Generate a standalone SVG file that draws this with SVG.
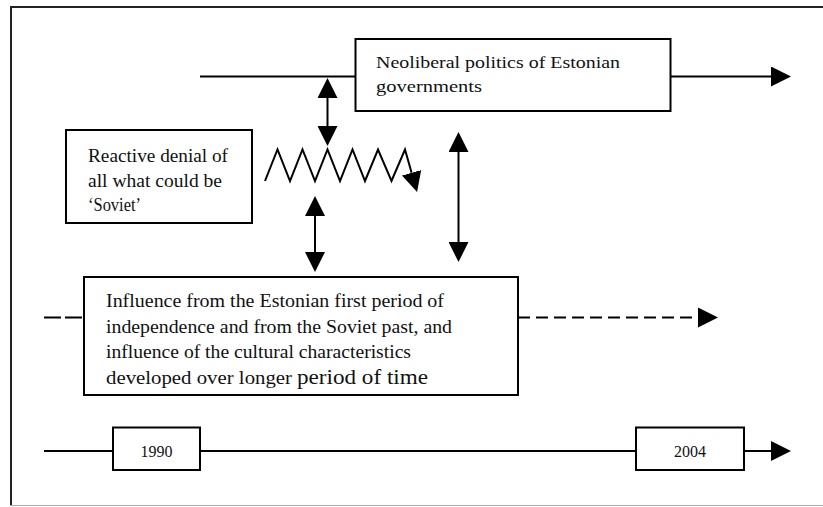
<svg xmlns="http://www.w3.org/2000/svg" width="823" height="507" viewBox="0 0 823 507">
<style>
  .ln{stroke:#000;stroke-width:2;fill:none}
  .box{fill:#fff;stroke:#000;stroke-width:2}
  .t{font-family:"Liberation Serif","Times New Roman",serif;fill:#111}
  .f16{font-size:16px}
  .f17{font-size:17px}
  .f18{font-size:18px}
  .f20{font-size:20px}
</style>
<defs>
  <marker id="ah" viewBox="0 -10 20 20" refX="0" refY="0" markerWidth="20" markerHeight="20" markerUnits="userSpaceOnUse" orient="auto-start-reverse">
    <path d="M0,-10 L20,0 L0,10 Z" fill="#000"/>
  </marker>
</defs>
<g id="frame">
  <line x1="10" y1="7" x2="823" y2="7" stroke="#222" stroke-width="2"/>
  <line x1="11" y1="6" x2="11" y2="506" stroke="#222" stroke-width="2"/>
  <line x1="10" y1="505.5" x2="823" y2="505.5" stroke="#aaa" stroke-width="1"/>
</g>
<g id="connectors">
  <line class="ln" x1="200" y1="76.5" x2="356" y2="76.5"/>
  <line class="ln" x1="670" y1="76.5" x2="771" y2="76.5" marker-end="url(#ah)"/>
  <line class="ln" x1="327.5" y1="98" x2="327.5" y2="126" marker-start="url(#ah)" marker-end="url(#ah)"/>
  <line class="ln" x1="315" y1="216" x2="315" y2="252" marker-start="url(#ah)" marker-end="url(#ah)"/>
  <line class="ln" x1="458.5" y1="152" x2="458.5" y2="242" marker-start="url(#ah)" marker-end="url(#ah)"/>
  <polyline class="ln" stroke-linejoin="miter" points="265,181 277.5,149.5 290,181 302.5,149.5 315,181 327.5,149.5 340,181 352.5,149.5 365,181 378,149.5 391.5,181 405,149.5 411.6,172.8" marker-end="url(#ah)"/>
  <line class="ln" x1="44" y1="317.5" x2="83" y2="317.5" stroke-dasharray="17,4"/>
  <line class="ln" x1="518" y1="317.5" x2="698" y2="317.5" stroke-dasharray="12,6"/>
  <path d="M698,307.5 L718,317.5 L698,327.5 Z" fill="#000"/>
  <line class="ln" x1="44" y1="451" x2="113" y2="451"/>
  <line class="ln" x1="200" y1="451" x2="636" y2="451"/>
  <line class="ln" x1="744" y1="451" x2="771" y2="451" marker-end="url(#ah)"/>
</g>
<g id="neoliberal">
  <rect class="box" x="355.5" y="39" width="315" height="72"/>
  <text class="t f17" x="376" y="68" textLength="244" lengthAdjust="spacingAndGlyphs">Neoliberal politics of Estonian</text>
  <text class="t f17" x="376" y="92" textLength="106" lengthAdjust="spacingAndGlyphs">governments</text>
</g>
<g id="reactive">
  <rect class="box" x="66" y="130" width="186" height="93"/>
  <text class="t f18" x="88" y="162" textLength="140" lengthAdjust="spacingAndGlyphs">Reactive denial of</text>
  <text class="t f18" x="88" y="187" textLength="134" lengthAdjust="spacingAndGlyphs">all what could be</text>
  <text class="t f18" x="88" y="211" textLength="53" lengthAdjust="spacingAndGlyphs">‘Soviet’</text>
</g>
<g id="influence">
  <rect class="box" x="84" y="277" width="434" height="118"/>
  <text class="t f18" x="106" y="307" textLength="338" lengthAdjust="spacingAndGlyphs">Influence from the Estonian first period of</text>
  <text class="t f18" x="106" y="333" textLength="346" lengthAdjust="spacingAndGlyphs">independence and from the Soviet past, and</text>
  <text class="t f18" x="106" y="358" textLength="305" lengthAdjust="spacingAndGlyphs">influence of the cultural characteristics</text>
  <text class="t f18" x="106" y="384"><tspan textLength="186" lengthAdjust="spacingAndGlyphs">developed over longer</tspan><tspan class="f20" x="297" textLength="131" lengthAdjust="spacingAndGlyphs">period of time</tspan></text>
</g>
<g id="y1990">
  <rect class="box" x="113" y="427.5" width="87" height="42.5"/>
  <text class="t f16" x="156.5" y="457" text-anchor="middle">1990</text>
</g>
<g id="y2004">
  <rect class="box" x="636" y="427.5" width="108" height="42.5"/>
  <text class="t f16" x="690" y="457" text-anchor="middle">2004</text>
</g>
</svg>
